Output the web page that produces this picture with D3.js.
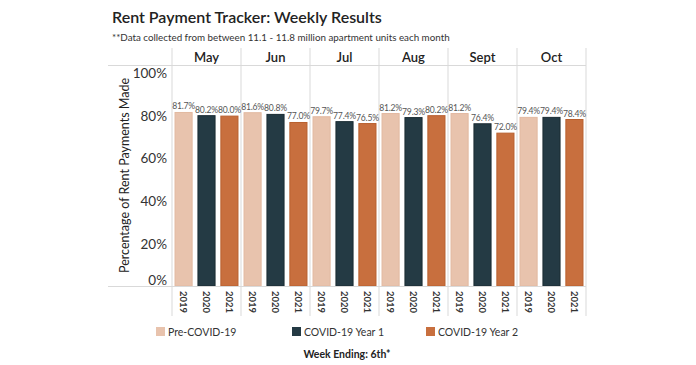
<!DOCTYPE html>
<html>
<head>
<meta charset="utf-8">
<script src="https://cdn.jsdelivr.net/npm/d3@7"></script>
<style>
  body { margin: 0; background: #fff; }
  svg { display: block; font-family: Lato, "Open Sans", sans-serif; }
</style>
</head>
<body>
<svg id="chart" width="696" height="365"></svg>
<script>
const months = ["May", "Jun", "Jul", "Aug", "Sept", "Oct"];
const years = ["2019", "2020", "2021"];
const seriesNames = ["Pre-COVID-19", "COVID-19 Year 1", "COVID-19 Year 2"];
const values2019 = [81.7, 81.6, 79.7, 81.2, 81.2, 79.4];
const values2020 = [80.2, 80.8, 77.4, 79.3, 76.4, 79.4];
const values2021 = [80.0, 77.0, 76.5, 80.2, 72.0, 78.4];
const yTicks = [0, 20, 40, 60, 80, 100];
const colors = ["#e8c3ad", "#243a44", "#c86f3e"];
const strokes = ["#e2b9a1", "#1a2b33", "#b9602f"];

const seriesValues = [values2019, values2020, values2021];
const data = [];
months.forEach((m, i) => {
  years.forEach((y, j) => data.push({ month: m, year: y, s: j, v: seriesValues[j][i] }));
});

const svg = d3.select("#chart");
const left = 172, right = 586;
const y0 = 286, y100 = 73;

const x = d3.scaleBand().domain(months).range([left, right]);
const xi = d3.scaleBand().domain(years).range([0, x.bandwidth()]).paddingInner(0.21).paddingOuter(0.11);
const y = d3.scaleLinear().domain([0, 100]).range([y0, y100]);

svg.append("text").attr("x", 112).attr("y", 23)
  .attr("font-size", 16).attr("font-weight", 600).attr("fill", "#222")
  .text("Rent Payment Tracker: Weekly Results");
svg.append("text").attr("x", 112).attr("y", 41)
  .attr("font-size", 9.8).attr("fill", "#333")
  .text("**Data collected from between 11.1 - 11.8 million apartment units each month");

const grid = "#d9d9d9";
const seps = months.map(m => x(m)).concat([right]);
svg.append("g").selectAll("line").data(seps).join("line")
  .attr("x1", d => d).attr("x2", d => d).attr("y1", 48).attr("y2", 316)
  .attr("stroke", grid).attr("stroke-width", 1);
svg.append("line").attr("x1", 108).attr("x2", right).attr("y1", 65.5).attr("y2", 65.5).attr("stroke", grid);

svg.append("g").selectAll("text").data(months).join("text")
  .attr("x", d => x(d) + x.bandwidth() / 2).attr("y", 62)
  .attr("text-anchor", "middle").attr("font-size", 13).attr("font-weight", 600).attr("fill", "#222")
  .text(d => d);

const yAxis = d3.axisLeft(y).tickValues(yTicks).tickSize(0).tickPadding(0).tickFormat(d => d + "%");
const ya = svg.append("g").attr("transform", `translate(${left - 5},0)`).call(yAxis);
ya.select(".domain").remove();
ya.selectAll("text").attr("font-size", 13.5).attr("fill", "#333").attr("font-family", "Lato, sans-serif")
  .attr("dy", d => d === 0 ? "-0.1em" : "0.35em");

svg.append("text")
  .attr("transform", `translate(129,${(y0 + y100) / 2 - 4}) rotate(-90)`)
  .attr("text-anchor", "middle").attr("font-size", 12.5).attr("fill", "#222")
  .text("Percentage of Rent Payments Made");

const bars = svg.append("g");
bars.selectAll("rect").data(data).join("rect")
  .attr("x", d => x(d.month) + xi(d.year) + 0.5)
  .attr("width", xi.bandwidth() - 1)
  .attr("y", d => y(d.v) + 0.5)
  .attr("height", d => y0 - y(d.v) - 0.5)
  .attr("fill", d => colors[d.s])
  .attr("stroke", d => strokes[d.s]).attr("stroke-width", 1);

bars.selectAll("text").data(data).join("text")
  .attr("x", d => x(d.month) + xi(d.year) + xi.bandwidth() / 2)
  .attr("y", d => y(d.v) - 2.5)
  .attr("text-anchor", "middle").attr("font-size", 8.6).attr("letter-spacing", -0.2).attr("fill", "#555")
  .text(d => d.v.toFixed(1) + "%");

svg.append("line").attr("x1", 108).attr("x2", right).attr("y1", y0 + 0.5).attr("y2", y0 + 0.5).attr("stroke", grid);

svg.append("g").selectAll("text").data(data).join("text")
  .attr("transform", d => `translate(${x(d.month) + xi(d.year) + xi.bandwidth() / 2 - 3.5},${y0 + 5}) rotate(90)`)
  .attr("font-size", 9.5).attr("font-weight", 700).attr("fill", "#333")
  .text(d => d.year);

const legX = [156, 292, 426];
const leg = svg.append("g").selectAll("g").data(seriesNames).join("g")
  .attr("transform", (d, i) => `translate(${legX[i]},327)`);
leg.append("rect").attr("width", 9).attr("height", 9).attr("fill", (d, i) => colors[i]);
leg.append("text").attr("x", 12).attr("y", 8.5).attr("font-size", 10.5).attr("fill", "#333").text(d => d);

svg.append("text").attr("x", 347).attr("y", 358).attr("text-anchor", "middle")
  .attr("font-size", 10.5).attr("font-weight", 700).attr("fill", "#222")
  .text("Week Ending: 6th*");
</script>
</body>
</html>
